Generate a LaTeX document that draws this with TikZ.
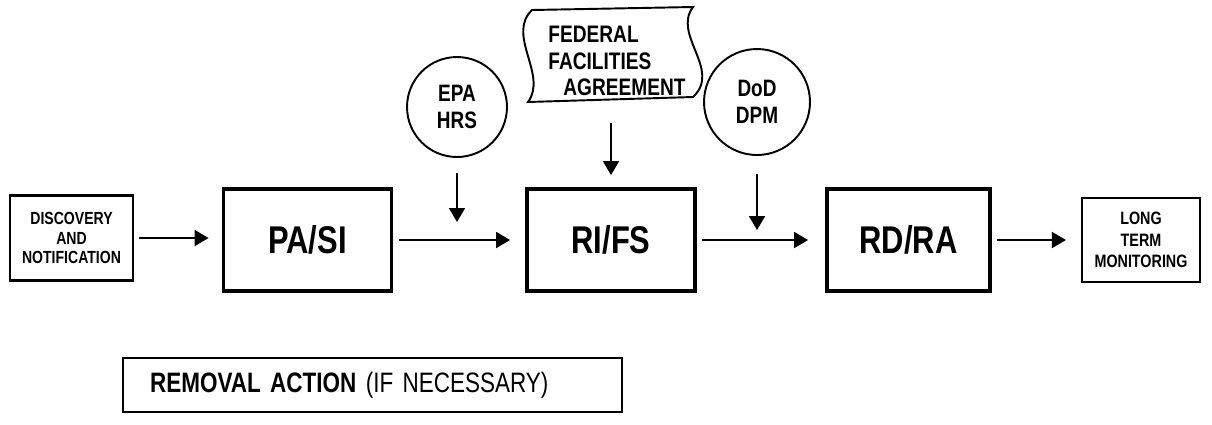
\documentclass[tikz,border=0pt]{standalone}
\usepackage{fontspec}
\setmainfont[FakeStretch=0.8]{Liberation Sans}
\usetikzlibrary{arrows.meta}

\tikzset{
  stage/.style={draw, line width=2.2pt, minimum width=3.36cm, minimum height=2.04cm,
    font=\bfseries\fontsize{22}{24}\selectfont},
  endbox/.style={draw, line width=1.2pt, align=center,
    font=\bfseries\fontsize{10}{11.3}\selectfont},
  source/.style={circle, draw, line width=1.1pt, align=center,
    font=\bfseries\fontsize{13.5}{15}\selectfont},
  flow/.style={line width=1pt, -{Triangle[length=0.28cm,width=0.32cm]}},
}

\begin{document}
\begin{tikzpicture}[x=0.02cm, y=-0.02cm]
  \useasboundingbox (0,0) rectangle (1212,424);
  % Nodes
  \node[endbox, minimum width=2.46cm, minimum height=1.7cm] (disc) at (71.5,238) {DISCOVERY\\AND\\NOTIFICATION};
  \node[stage] (pasi) at (307.5,240) {PA/SI};
  \node[stage] (rifs) at (611,240) {RI/FS};
  \node[stage, minimum width=3.26cm] (rdra) at (908.5,240) {RD/RA};
  \node[endbox, minimum width=2.36cm, minimum height=1.68cm,
    font=\bfseries\fontsize{10.2}{12.3}\selectfont] (ltm) at (1141,240) {LONG\\TERM\\MONITORING};
  \node[source, minimum size=2cm] (epa) at (457,107) {EPA\\HRS};
  \node[source, minimum size=2.12cm] (dod) at (757,102) {DoD\\DPM};
  \node[align=left, inner sep=0pt, font=\bfseries\fontsize{13.6}{15.3}\selectfont] (ffa) at (617,61)
    {FEDERAL\\FACILITIES\\\hspace{0.3cm}AGREEMENT};
  \node[draw, line width=1pt, minimum width=9.98cm, minimum height=1.08cm, text width=8.9cm,
    inner xsep=0.54cm, align=left, font=\fontsize{16}{18}\selectfont] (remov) at (372.5,385)
    {\textbf{REMOVAL ACTION} (IF NECESSARY)};
  % agreement sheet
  \draw[line width=1.1pt] (532,10) -- (693,7) .. controls (672,35) and (722,70) .. (693,97)
    -- (528,102) .. controls (548,75) and (506,35) .. cycle;
  \coordinate (epatip) at (457,222);
  \coordinate (dodtip) at (757,230);
  % Edges
  \draw[flow, shorten <=0.1cm, shorten >=0.26cm] (disc.east) -- (disc.east -| pasi.west);
  \draw[flow, shorten <=0.12cm, shorten >=0.3cm] (pasi) -- (rifs);
  \draw[flow, shorten <=0.1cm, shorten >=0.34cm] (rifs) -- (rdra);
  \draw[flow, shorten <=0.1cm, shorten >=0.3cm] (rdra) -- (ltm);
  \draw[flow, shorten <=0.3cm] (epa) -- (epatip);
  \draw[flow, shorten <=0.36cm] (dod) -- (dodtip);
  \draw[flow, shorten <=0.52cm, shorten >=0.24cm] (ffa.south -| rifs.north) -- (rifs.north);
\end{tikzpicture}
\end{document}
